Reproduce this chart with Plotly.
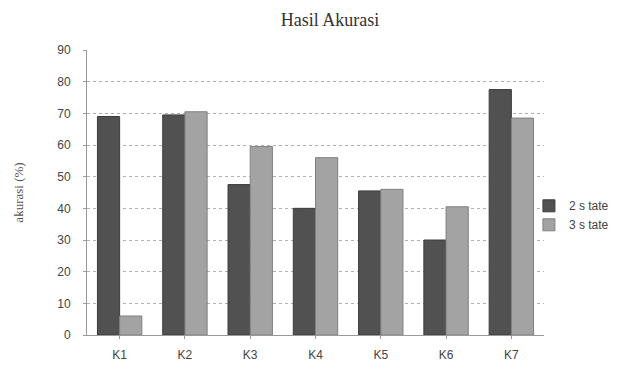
import plotly.graph_objects as go

categories = ["K1", "K2", "K3", "K4", "K5", "K6", "K7"]
state2 = [69, 69.5, 47.5, 40, 45.5, 30, 77.5]
state3 = [6, 70.5, 59.5, 56, 46, 40.5, 68.5]
y_ticks = [0, 10, 20, 30, 40, 50, 60, 70, 80, 90]

fig = go.Figure()
fig.add_trace(go.Bar(x=categories, y=state2, name="2 s tate",
                     marker=dict(color="#515151", line=dict(color="#3c3c3c", width=1))))
fig.add_trace(go.Bar(x=categories, y=state3, name="3 s tate",
                     marker=dict(color="#a3a3a3", line=dict(color="#808080", width=1))))

fig.update_layout(
    width=619, height=390,
    paper_bgcolor="white", plot_bgcolor="white",
    barmode="group", bargap=0.32, bargroupgap=0,
    margin=dict(l=87, r=75, t=50, b=55, autoexpand=False),
    title=dict(text="Hasil Akurasi", x=0.533, xanchor="center", y=0.949, yanchor="middle",
               font=dict(family="Liberation Serif", size=18, color="#333")),
    font=dict(family="Liberation Sans", size=11, color="#444"),
    legend=dict(x=0.967, y=0.42, xanchor="left", yanchor="middle",
                font=dict(family="Liberation Sans", size=12, color="#444"),
                itemwidth=30, tracegroupgap=0, bgcolor="rgba(0,0,0,0)"),
    showlegend=True,
)
fig.update_xaxes(showline=True, linecolor="#999", linewidth=1, ticks="outside",
                 ticklen=3, tickcolor="#999", showgrid=False, ticklabelstandoff=6,
                 tickfont=dict(size=12, color="#444"))
fig.update_yaxes(range=[0, 90], tickvals=y_ticks, showline=True, linecolor="#999",
                 linewidth=1, ticks="outside", ticklen=3, tickcolor="#999",
                 showgrid=True, gridcolor="#b0b0b0", griddash="dot", gridwidth=1,
                 zeroline=False, ticklabelstandoff=10, tickfont=dict(size=12, color="#444"),
                 title=dict(text="akurasi (%)", standoff=30,
                            font=dict(family="Liberation Serif", size=13, color="#555")))

fig.write_html("out.html", config={"displayModeBar": False},
               post_script="document.body.style.margin='0';document.body.style.overflow='hidden';")
